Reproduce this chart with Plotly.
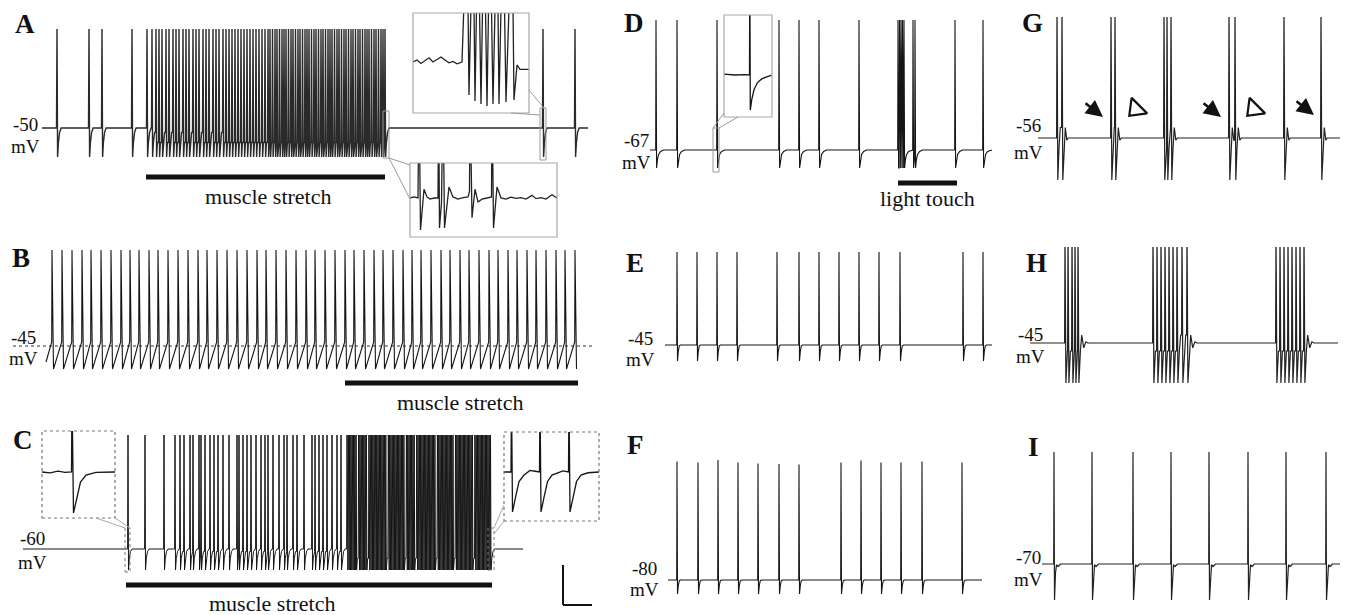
import plotly.graph_objects as go

W, H = 1347, 615

# ------------------------------------------------------------------ data
# spike times (arbitrary time units along each trace) and voltage levels (mV)
A_rest, A_peak, A_trough = -50, -0.5, -64.5
A_spikes_pre = [57, 89, 102, 132]
A_spikes_burst = [147, 152, 156, 159, 162, 166, 169, 173, 176, 179, 183, 186, 189, 193, 196,
                  199, 203, 206, 209, 213, 216, 219, 223, 226, 229, 232, 235, 238, 241, 244,
                  247, 250, 253, 256, 259, 262, 265, 268, 270, 272.5, 275, 277, 279.5, 282,
                  284, 286, 288.5, 291, 293, 295.5, 298, 300, 302.5, 305, 307, 309, 311.5,
                  314, 316, 318.5, 321, 323, 325.5, 328, 330, 332, 334.5, 337, 339, 341.5,
                  344, 346, 348.5, 351, 353, 355.5, 358, 360, 362.5, 365, 367, 369, 371.5,
                  374, 376, 378.5, 381, 383, 385]
A_spikes_post = [543, 575]
A_stretch = [146, 385]
# inset A (top): zoomed trace samples
A1_t = [413, 417, 421, 425, 429, 433, 437, 441, 445, 449, 453, 457, 462,
        467, 469, 473, 475, 478, 481, 484, 487, 490, 493, 497, 499, 503, 506, 512, 514,
        517, 520, 529]
A1_v = [-50, -49.3, -50.5, -49.6, -48.6, -50, -49.2, -48.3, -49.3, -50.3, -49.8, -50.6, -50,
        0, -61.1, 0, -63.1, 0, -64.1, 0, -64.8, 0, -64.1, 0, -64.1, 0, -63.5, 0, -62.8,
        -51, -52.5, -52.5]
# inset A (bottom)
A2_t = [410, 414, 418, 419, 420.5, 424, 427, 430, 434, 438, 438.6, 439.5, 441.5, 443, 444.5,
        449, 453, 458, 463, 468, 469.5, 470, 472, 475, 478, 482, 487, 491.5, 492, 493.5,
        497, 501, 506, 511, 516, 521, 526, 532, 536, 541, 546, 552, 557]
A2_v = [-50, -49.5, -50, 0, -64.5, -46, -49.5, -50.5, -50, -50, 0, -63.6, -52, 0, -63.6,
        -45, -49.5, -50.5, -49.8, -49.5, -47, 0, -59, -46, -51.8, -50.5, -50, -49.5, 0, -63.6,
        -45, -50, -50.5, -49.6, -50.2, -49.8, -50.5, -48.8, -50.3, -49.8, -50.5, -48.5, -50]

B_rest, B_peak, B_trough, B_threshold, B_start = -45, 3, -56.5, -43, -53
B_spikes = [52, 62, 72, 82, 91, 101, 111, 121, 130, 139, 149, 158, 168, 178, 188, 198, 207,
            217, 227, 237, 247, 257, 266, 276, 286, 296, 306, 315, 325, 335, 345, 354, 364,
            374, 383, 393, 403, 412, 421, 431, 441, 450, 460, 469, 479, 489, 498, 508, 517,
            527, 536, 546, 556, 565, 575]
B_stretch = [345, 578]

C_rest, C_peak, C_trough = -60, -3, -70.5
C_spikes_sparse = [128, 145, 164, 175, 180, 184, 190, 193, 199, 201, 205, 210, 214, 218, 223,
                   229, 237, 239, 243, 247, 251, 256, 261, 265, 268, 273, 279, 284, 287, 293,
                   297, 304, 312, 315, 319, 323, 327, 332, 337, 341]
C_spikes_dense = [347, 348.3, 349.6, 350.9, 352.2, 353.5, 354.8, 356.1, 358.6, 359.9, 361.2,
                  362.5, 363.8, 365.1, 366.4, 368.9, 370.2, 371.5, 372.8, 374.1, 375.4, 376.7,
                  378, 379.3, 380.6, 381.9, 383.2, 384.5, 385.8, 388.3, 389.6, 390.9, 392.2,
                  393.5, 394.8, 396.1, 397.4, 398.7, 400, 401.3, 402.6, 403.9, 406.4, 407.7,
                  409, 410.3, 411.6, 412.9, 414.2, 416.7, 418, 419.3, 420.6, 421.9, 423.2,
                  424.5, 425.8, 427.1, 428.4, 429.7, 431, 432.3, 433.6, 434.9, 437.4, 438.7,
                  440, 441.3, 442.6, 443.9, 445.2, 446.5, 447.8, 449.1, 450.4, 451.7, 453,
                  455.5, 456.8, 458.1, 459.4, 460.7, 462, 463.3, 464.6, 465.9, 467.2, 468.5,
                  469.8, 471.1, 472.4, 474.9, 476.2, 477.5, 478.8, 480.1, 481.4, 482.7, 484,
                  485.3, 486.6, 487.9, 489.2, 490.5]
C_stretch = [126, 492]
C1_t = [42, 50, 58, 65, 71.5, 72, 73.5, 76.6, 80.5, 86, 96, 115]
C1_v = [-60, -60.2, -59.8, -60.1, -60, -40, -70.5, -66.7, -62.6, -60.8, -60.1, -60]
C2_t = [504, 511, 511.5, 512.5, 515.5, 519, 524, 530, 535, 539.5, 540, 541, 544, 547.5,
        552, 558, 563, 568.5, 569, 570, 573, 576.5, 581, 588, 599]
C2_v = [-60, -60, -40, -70.5, -66.7, -62.5, -60.8, -59.6, -59.8, -60, -40, -70.5, -66.7,
        -62.5, -60.8, -60.2, -59.7, -60, -40, -70.5, -66.7, -62.5, -60.8, -60.2, -60]

D_rest, D_peak, D_trough = -67, -2, -76
D_spikes = [656, 677, 717, 779, 799, 819, 859, 898, 899.5, 901, 902.5, 904, 913, 915, 955, 983]
D_touch = [898, 957]
Dins_t = [724, 735, 745, 749.5, 749.8, 750.3, 751.7, 754, 757.3, 761.7, 766.7, 772]
Dins_v = [-66.8, -67, -66.9, -67, -40, -76, -73.4, -70.8, -69, -68, -67.5, -67]

E_rest, E_peak, E_trough = -45, 1.5, -53
E_spikes = [677, 697, 717, 737, 777, 799, 819, 839, 859, 879, 900, 963, 983]

F_rest, F_trough = -80, -87
F_spikes = [677, 698, 718, 738, 758, 779, 799, 841, 861, 881, 901, 922, 962]
F_peaks = [-20.8, -21.3, -20, -21.3, -21.7, -22, -22.2, -21.3, -20.3, -21.3, -21.3, -20.8, -21.3]

G_rest, G_peak, G_trough = -56, 10, -77
G_spikes = [1057, 1062, 1111, 1115, 1164, 1167, 1171, 1229, 1235, 1284, 1321]
G_arrow_t = [1103, 1221, 1314]
G_arrow_v = [-45.5, -45.5, -44.5]
G_open_t = [1136, 1254]
G_open_v = [-41.5, -41.5]

H_rest, H_peak, H_trough = -45, 10, -65
H_spikes = [1065, 1068, 1072, 1075, 1078,
            1153, 1157, 1161, 1165, 1169, 1173, 1177, 1182, 1187,
            1276, 1280, 1284, 1288, 1292, 1296, 1300, 1304]

I_rest, I_peak, I_trough = -70, -14, -88
I_spikes = [1054, 1092, 1133, 1171, 1209, 1248, 1286, 1326]

# ------------------------------------------------------------------ layout geometry
# name: (x0, x1, y_top, y_bottom, ref_mV, ref_px, px_per_mV)  (pixels of the 1347x615 page)
PANELS = {
    "A":   (0, 600, 10, 240, A_rest, 128, 2.0),
    "A1":  (413, 529, 13, 113, A_rest, 62, 2.97),
    "A2":  (410, 557, 163, 237, A_rest, 198, 2.2),
    "B":   (0, 600, 245, 415, B_rest, 346, 2.0),
    "C":   (0, 600, 425, 612, C_rest, 549, 2.0),
    "C1":  (42, 115, 431, 518, C_rest, 472, 3.9),
    "C2":  (504, 599, 432, 521, C_rest, 472, 3.8),
    "D":   (600, 1000, 10, 230, D_rest, 150, 2.0),
    "Dins": (724, 772, 15, 117, D_rest, 75, 3.9),
    "E":   (600, 1000, 245, 420, E_rest, 345, 2.0),
    "F":   (600, 1000, 430, 612, F_rest, 580, 2.0),
    "G":   (1000, 1347, 17, 200, G_rest, 138, 2.0),
    "H":   (1000, 1347, 247, 420, H_rest, 343, 2.0),
    "I":   (1000, 1347, 430, 612, I_rest, 564, 2.0),
}
ORDER = list(PANELS.keys())
AX = {}
layout_axes = {}
for i, name in enumerate(ORDER, start=1):
    x0, x1, yt, yb, ref, refpx, k = PANELS[name]
    sfx = "" if i == 1 else str(i)
    AX[name] = ("x" + sfx, "y" + sfx)
    vb = ref - (yb - refpx) / k
    vt = ref - (yt - refpx) / k
    layout_axes["xaxis" + sfx] = dict(domain=[x0 / W, x1 / W], range=[x0, x1], visible=False,
                                      anchor="y" + sfx, fixedrange=True)
    layout_axes["yaxis" + sfx] = dict(domain=[1 - yb / H, 1 - yt / H], range=[vb, vt],
                                      visible=False, anchor="x" + sfx, fixedrange=True)


def v_at(name, py):
    x0, x1, yt, yb, ref, refpx, k = PANELS[name]
    return ref - (py - refpx) / k


def spike_train(times, t0, t1, base, peak, trough, rise, fall, recov,
                pre=None, start=None, peaks=None):
    xs, ys = [t0], [base if start is None else start]
    for k, t in enumerate(times):
        nxt = times[k + 1] if k + 1 < len(times) else float("inf")
        p = peaks[k] if peaks is not None else peak
        if t - rise > xs[-1]:
            xs.append(t - rise)
            ys.append(pre if pre is not None else ys[-1])
        xs.append(t); ys.append(p)
        xs.append(t + fall); ys.append(trough)
        for dx, fr in recov:
            x = t + fall + dx
            if x >= nxt - rise:
                break
            xs.append(x); ys.append(trough + (base - trough) * fr)
    if t1 > xs[-1]:
        xs.append(t1); ys.append(base if pre is None else ys[-1])
    return xs, ys


fig = go.Figure()
INK = "#151515"


def add_line(name, xs, ys, color=INK, width=1.1, dash="solid"):
    xa, ya = AX[name]
    fig.add_trace(go.Scatter(x=xs, y=ys, mode="lines", xaxis=xa, yaxis=ya,
                             line=dict(color=color, width=width, dash=dash),
                             hoverinfo="skip", showlegend=False))


# A
xs, ys = spike_train(A_spikes_pre + A_spikes_burst + A_spikes_post, 42, 588, A_rest, A_peak,
                     A_trough, 0.5, 0.6, [(0.8, 0.5), (2.0, 0.85), (3.5, 1.0)])
add_line("A", xs, ys, color="#2a2a2a", width=1.4)
add_line("A", A_stretch, [v_at("A", 177)] * 2, color="#111", width=5)
add_line("A1", A1_t, A1_v, color="#222", width=1.3)
add_line("A2", A2_t, A2_v, color="#222", width=1.3)

# B
xs, ys = spike_train(B_spikes, 46, B_spikes[-1] + 1.5, B_rest, B_peak, B_trough, 0.3, 1.5, [],
                     pre=B_threshold, start=B_start)
add_line("B", [13, 592], [B_rest, B_rest], color="#333", width=1, dash="dot")
add_line("B", xs, ys, width=1.1)
add_line("B", B_stretch, [v_at("B", 383)] * 2, color="#111", width=5)

# C
xs, ys = spike_train(C_spikes_sparse + C_spikes_dense, 23, 523, C_rest, C_peak, C_trough,
                     0.4, 0.5, [(0.8, 0.55), (2.0, 0.88), (3.5, 1.0)])
add_line("C", xs, ys, width=1.0)
add_line("C", C_stretch, [v_at("C", 585)] * 2, color="#111", width=5)
add_line("C1", C1_t, C1_v, width=1.3)
add_line("C2", C2_t, C2_v, width=1.3)

# D
xs, ys = spike_train(D_spikes, 650, 992, D_rest, D_peak, D_trough, 0.3, 0.6,
                     [(0.8, 0.45), (2.0, 0.75), (4.0, 0.92), (7.0, 1.0)])
add_line("D", xs, ys, width=1.1)
add_line("D", D_touch, [v_at("D", 183)] * 2, color="#111", width=5)
add_line("Dins", Dins_t, Dins_v, width=1.3)

# E
xs, ys = spike_train(E_spikes, 665, 992, E_rest, E_peak, E_trough, 0.3, 0.5,
                     [(0.8, 0.6), (1.8, 0.95), (3.0, 1.0)])
add_line("E", xs, ys, width=1.1)

# F
xs, ys = spike_train(F_spikes, 668, 982, F_rest, None, F_trough, 0.3, 0.5,
                     [(0.8, 0.6), (1.8, 0.95), (3.0, 1.0)], peaks=F_peaks)
add_line("F", xs, ys, width=1.1)

# G
xs, ys = spike_train(G_spikes, 1038, 1340, G_rest, G_peak, G_trough, 0.4, 0.8,
                     [(1.2, 0.75), (2.5, 1.25), (4.0, 0.95), (5.5, 1.0)])
add_line("G", xs, ys, color="#222", width=1.2)
xa, ya = AX["G"]
fig.add_trace(go.Scatter(x=G_open_t, y=G_open_v, mode="markers", xaxis=xa, yaxis=ya,
                         marker=dict(symbol="triangle-up-open", angle=225, size=19,
                                     color="#111", line=dict(width=2.2, color="#111")),
                         hoverinfo="skip", showlegend=False))

# H
xs, ys = spike_train(H_spikes, 1030, 1338, H_rest, H_peak, H_trough, 0.4, 0.9,
                     [(1.5, 0.8), (2.8, 1.2), (4.8, 0.88), (7.0, 1.03), (9.0, 1.0)])
add_line("H", xs, ys, color="#222", width=1.2)

# I
xs, ys = spike_train(I_spikes, 1042, 1340, I_rest, I_peak, I_trough, 0.3, 0.5,
                     [(1.0, 0.75), (2.0, 0.98), (3.5, 0.93), (6.0, 1.0)])
add_line("I", xs, ys, color="#222", width=1.2)

# ------------------------------------------------------------------ annotations
SERIF = "Liberation Serif, Times New Roman, serif"
annotations = []


def ptext(x, y, s, size=19, bold=False):
    annotations.append(dict(x=x / W, y=1 - y / H, xref="paper", yref="paper", text=s,
                            showarrow=False, xanchor="center", yanchor="middle",
                            font=dict(family=SERIF, size=size, color="#111",
                                      weight="bold" if bold else "normal")))


for lab, x, y in [("A", 25, 24), ("B", 21, 258), ("C", 23, 440), ("D", 634, 23),
                  ("E", 635, 263), ("F", 635, 445), ("G", 1032, 23), ("H", 1036, 263),
                  ("I", 1033, 447)]:
    ptext(x, y, lab, size=27, bold=True)

for val, x, y1, y2 in [(A_rest, 25, 124, 146), (B_rest, 23, 337, 358), (C_rest, 32, 538, 562),
                       (D_rest, 636, 140, 163), (E_rest, 640, 338, 359), (F_rest, 644, 568, 589),
                       (G_rest, 1028, 126, 152), (H_rest, 1030, 334, 356), (I_rest, 1028, 557, 579)]:
    ptext(x, y1, str(val), size=19)
    ptext(x, y2, "mV", size=19)

ptext(268, 196, "muscle stretch", size=22)
ptext(460, 402, "muscle stretch", size=22)
ptext(272, 603, "muscle stretch", size=22)
ptext(927, 199, "light touch", size=22)

xa, ya = AX["G"]
for t, v in zip(G_arrow_t, G_arrow_v):
    annotations.append(dict(x=t, y=v, xref=xa, yref=ya, ax=-19, ay=-15, text="",
                            showarrow=True, arrowhead=2, arrowsize=1.3, arrowwidth=2.6,
                            arrowcolor="#111", standoff=0, startstandoff=0))

# ------------------------------------------------------------------ shapes (insets, call-outs, scale bar)
shapes = []


def prect(x0, y0, x1, y1, dash="solid", color="#9a9a9a", width=1):
    shapes.append(dict(type="rect", xref="paper", yref="paper", x0=x0 / W, x1=x1 / W,
                       y0=1 - y1 / H, y1=1 - y0 / H, line=dict(color=color, width=width, dash=dash)))


def pline(x0, y0, x1, y1, dash="solid", color="#9a9a9a", width=1):
    shapes.append(dict(type="line", xref="paper", yref="paper", x0=x0 / W, x1=x1 / W,
                       y0=1 - y0 / H, y1=1 - y1 / H, line=dict(color=color, width=width, dash=dash)))


for name, dash, col in [("A1", "solid", "#a8a8a8"), ("A2", "solid", "#a8a8a8"),
                        ("C1", "dot", "#777"), ("C2", "dot", "#777"), ("Dins", "solid", "#a8a8a8")]:
    x0, x1, yt, yb = PANELS[name][:4]
    prect(x0, yt, x1, yb, dash=dash, color=col, width=1.2)

# call-out boxes and connector lines
prect(383, 111, 389, 158)
pline(389, 158, 410, 165)
pline(389, 158, 410, 199)
prect(540, 108, 546, 160)
pline(529, 90, 544, 108)
pline(511, 113, 540, 115)
prect(125, 528, 130, 572, dash="dot", color="#777")
pline(96, 518, 125, 528, color="#aaa")
pline(115, 518, 130, 528, color="#aaa")
prect(488, 528, 494, 570, dash="dot", color="#777")
pline(494, 528, 504, 505, color="#aaa")
pline(494, 534, 504, 521, color="#aaa")
prect(713, 128, 719, 172)
pline(713, 128, 724, 113)
pline(719, 128, 738, 117)

# scale bar (panel C)
pline(563, 565, 563, 605, color="#111", width=2)
pline(563, 605, 592, 605, color="#111", width=2)

fig.update_layout(width=W, height=H, margin=dict(l=0, r=0, t=0, b=0),
                  paper_bgcolor="white", plot_bgcolor="rgba(0,0,0,0)", showlegend=False,
                  hovermode=False, annotations=annotations, shapes=shapes, **layout_axes)

fig.write_html("out.html", config={"displayModeBar": False},
               post_script="document.body.style.margin='0px';document.body.style.overflow='hidden';")
